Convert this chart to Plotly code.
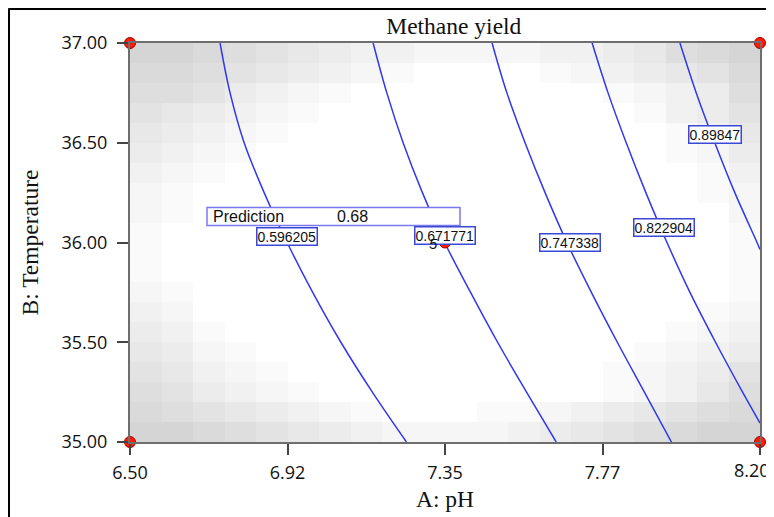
import numpy as np
import plotly.graph_objects as go

# ---------------- data ----------------
x_tickvals = [6.50, 6.925, 7.35, 7.775, 8.20]
x_ticktext = ["6.50", "6.92", "7.35", "7.77", "8.20"]
y_tickvals = [35.00, 35.50, 36.00, 36.50, 37.00]
y_ticktext = ["35.00", "35.50", "36.00", "36.50", "37.00"]

# contour levels (Methane yield) and their traced paths (pH, Temperature)
levels = ["0.596205", "0.671771", "0.747338", "0.822904", "0.89847"]
temp_path = [37.00, 36.75, 36.50, 36.25, 36.00, 35.75, 35.50, 35.25, 35.00]
ph_c1 = [6.743, 6.770, 6.808, 6.862, 6.924, 6.993, 7.069, 7.154, 7.246]
ph_c2 = [7.156, 7.193, 7.237, 7.289, 7.349, 7.419, 7.492, 7.570, 7.650]
ph_c3 = [7.477, 7.517, 7.566, 7.620, 7.679, 7.745, 7.815, 7.888, 7.961]
ph_c4 = [7.747, 7.790, 7.839, 7.892, 7.949, 8.011, 8.080, 8.153, 8.200]
temp_c4 = [37.00, 36.75, 36.50, 36.25, 36.00, 35.75, 35.50, 35.25, 35.095]
ph_c5 = [7.984, 8.028, 8.078, 8.132, 8.192, 8.200]
temp_c5 = [37.00, 36.75, 36.50, 36.25, 36.00, 35.965]

# temperature at which each contour label sits
label_temp = [36.03, 36.035, 36.00, 36.075, 36.54]

# design points
design_ph = [6.50, 8.20, 6.50, 8.20, 7.35]
design_temp = [35.00, 35.00, 37.00, 37.00, 36.00]
center_reps = "5"

prediction_label = "Prediction"
prediction_value = "0.68"

# background shading (standard-error style), rows top (37.00) -> bottom (35.00), 20x20 cells
shade_rows = [
    "99876543322223345789",
    "88765432100001234568",
    "77643210000000012347",
    "65432100000000001346",
    "54321000000000000135",
    "43210000000000000124",
    "32100000000000000013",
    "21000000000000000012",
    "21000000000000000002",
    "10000000000000000001",
    "10000000000000000001",
    "10000000000000000001",
    "21000000000000000001",
    "32000000000000000012",
    "43100000000000000123",
    "54210000000000001234",
    "65321000000000012346",
    "76432100000000012357",
    "87654321000112345678",
    "99876543222234567899",
]

# ---------------- figure ----------------
W, H = 766, 509          # page body has an 8px offset inside the 774x517 window
ML, MR, MT, MB = 122, 14, 35, 75
PW, PH = W - ML - MR, H - MT - MB

fig = go.Figure()

shade = np.array([[int(c) for c in r] for r in shade_rows])[::-1]
nrow, ncol = shade.shape
xc = np.linspace(6.5, 8.2, ncol + 1)
yc = np.linspace(35.0, 37.0, nrow + 1)
fig.add_trace(go.Heatmap(
    z=shade, x=(xc[:-1] + xc[1:]) / 2, y=(yc[:-1] + yc[1:]) / 2,
    colorscale=[[0, "#ffffff"], [1, "rgb(213,213,213)"]],
    zmin=0, zmax=9, showscale=False, hoverinfo="skip",
))

line_color = "#3038ee"
paths = [
    (ph_c1, temp_path), (ph_c2, temp_path), (ph_c3, temp_path),
    (ph_c4, temp_c4), (ph_c5, temp_c5),
]
for (px_, ty_), lev in zip(paths, levels):
    fig.add_trace(go.Scatter(
        x=px_, y=ty_, mode="lines", line=dict(color=line_color, width=1.5, shape="spline"),
        name=lev, showlegend=False, hoverinfo="skip",
    ))

fig.add_trace(go.Scatter(
    x=design_ph, y=design_temp, mode="markers",
    marker=dict(size=11, color="#ff1a00", line=dict(color="#a00000", width=1)),
    cliponaxis=False, showlegend=False, hoverinfo="skip",
))

annotations = []
for (px_, ty_), lev, lt in zip(paths, levels, label_temp):
    xp = float(np.interp(lt, ty_[::-1], px_[::-1]))
    annotations.append(dict(
        x=xp, y=lt, xref="x", yref="y", text=lev, showarrow=False, xshift=3,
        font=dict(family="Liberation Sans", size=14, color="#111111"),
        bgcolor="white", bordercolor="#3a48d8", borderwidth=1.5, borderpad=0,
    ))

# center replicate count
annotations.append(dict(
    x=design_ph[4], y=design_temp[4], text="<i>" + center_reps + "</i>", showarrow=False,
    xshift=-12, yshift=-1, font=dict(family="Liberation Sans", size=15, color="#111111"),
))

# prediction flag
px0, px1 = 6.7078, 7.3905
py0, py1 = 36.0854, 36.1759
annotations.append(dict(
    x=px0, y=(py0 + py1) / 2, text=prediction_label, showarrow=False, xanchor="left",
    xshift=4, font=dict(family="Liberation Sans", size=16, color="#111111"),
))
annotations.append(dict(
    x=7.053, y=(py0 + py1) / 2, text=prediction_value, showarrow=False, xanchor="left",
    font=dict(family="Liberation Sans", size=16, color="#111111"),
))

fx = lambda p: (p - ML) / PW          # figure px -> paper x
fy = lambda p: (H - MB - p) / PH      # figure px -> paper y

# last x tick label: drawn nudged inward so it stays inside the window (as in the original)
annotations.append(dict(
    x=x_tickvals[-1], xref="x", y=fy(462), yref="paper", text=x_ticktext[-1],
    showarrow=False, xanchor="center", yanchor="middle", xshift=-8,
    font=dict(family="Open Sans", size=18, color="#111111"),
))
x_ticktext_shown = x_ticktext[:-1] + [""]

shapes = [
    dict(type="rect", xref="x", yref="y", x0=px0, x1=px1, y0=py0, y1=py1,
         line=dict(color="#7a7af0", width=1.5), fillcolor="white", layer="above"),
    dict(type="line", xref="x", yref="y", x0=px1, x1=px1, y0=py0, y1=35.995,
         line=dict(color="#7a7af0", width=1.5), layer="above"),
    # outer frame (left and top edges)
    dict(type="line", xref="paper", yref="paper", x0=fx(0.5), x1=fx(0.5), y0=fy(H + 10), y1=fy(0.5),
         line=dict(color="black", width=3)),
    dict(type="line", xref="paper", yref="paper", x0=fx(0.5), x1=fx(W + 10), y0=fy(0.5), y1=fy(0.5),
         line=dict(color="black", width=3)),
]

axis_common = dict(
    showgrid=False, zeroline=False, showline=True, mirror=True, automargin=False,
    linecolor="#6e6e6e", linewidth=2, ticks="outside", ticklen=11, tickwidth=1.5,
    tickcolor="#444444", tickfont=dict(family="Open Sans", size=18, color="#111111"),
)

fig.update_layout(
    width=W, height=H,
    margin=dict(l=ML, r=MR, t=MT, b=MB, autoexpand=False),
    paper_bgcolor="white", plot_bgcolor="white",
    title=dict(text="Methane yield", x=0.514, xref="paper", xanchor="center",
               y=1 - 18 / H, yref="container", yanchor="middle",
               font=dict(family="Liberation Serif", size=23.5, color="#111111")),
    xaxis=dict(range=[6.5, 8.2], tickvals=x_tickvals, ticktext=x_ticktext_shown,
               ticklabelstandoff=2,
               title=dict(text="A: pH", standoff=8,
                          font=dict(family="Liberation Serif", size=23.5, color="#111111")),
               **axis_common),
    yaxis=dict(range=[35.0, 37.0], tickvals=y_tickvals, ticktext=y_ticktext,
               ticklabelstandoff=6,
               title=dict(text="B: Temperature", standoff=16,
                          font=dict(family="Liberation Serif", size=23.5, color="#111111")),
               **axis_common),
    annotations=annotations, shapes=shapes, showlegend=False,
)

fig.write_html("out.html")
